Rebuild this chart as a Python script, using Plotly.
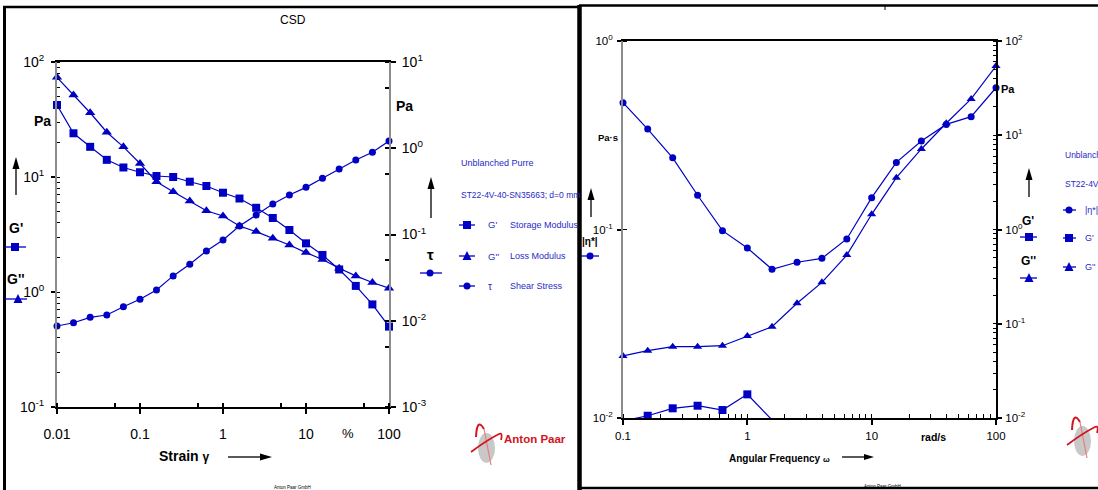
import math
import plotly.graph_objects as go

# ---------------- data ----------------
strain = [0.01, 0.0158, 0.0251, 0.0398, 0.0631, 0.1, 0.158, 0.251, 0.398, 0.631,
          1, 1.58, 2.51, 3.98, 6.31, 10, 15.8, 25.1, 39.8, 63.1, 100]
g_storage_strain = [42.3, 24.0, 18.3, 14.1, 12.1, 11.0, 10.2, 10.0, 9.1, 8.35,
                    7.3, 6.5, 5.4, 4.4, 3.46, 2.65, 2.1, 1.57, 1.13, 0.78, 0.50]
g_loss_strain = [73.6, 51.7, 36.2, 24.5, 18.3, 13.1, 9.1, 7.45, 6.18, 5.09,
                 4.58, 3.75, 3.35, 2.93, 2.56, 2.20, 1.92, 1.61, 1.38, 1.21, 1.08]
shear_stress = [0.00869, 0.00948, 0.01096, 0.01166, 0.01456, 0.01774, 0.02275, 0.0331,
                0.0452, 0.0644, 0.0863, 0.1256, 0.168, 0.226, 0.287, 0.352, 0.449,
                0.574, 0.731, 0.897, 1.21]

omega = [0.1, 0.158, 0.251, 0.398, 0.631, 1, 1.58, 2.51, 3.98, 6.31, 10, 15.8,
         25.1, 39.8, 63.1, 100]
eta_complex = [0.471, 0.341, 0.240, 0.152, 0.0986, 0.0798, 0.0615, 0.0670, 0.0703,
               0.0891, 0.1475, 0.227, 0.295, 0.361, 0.397, 0.565]
g_loss_freq = [0.0455, 0.0518, 0.0571, 0.0571, 0.0585, 0.0741, 0.0930, 0.165, 0.275,
               0.536, 1.45, 3.55, 7.15, 13.4, 24.3, 54.3]
omega_storage = [0.1, 0.158, 0.251, 0.398, 0.631, 1, 1.58]
g_storage_freq = [0.00929, 0.01057, 0.01267, 0.0135, 0.01215, 0.01782, 0.00953]

strain_ticks = [0.01, 0.1, 1, 10, 100]
strain_ticktext = ["0.01", "0.1", "1", "10", "100"]
omega_ticks = [0.1, 1, 10, 100]
omega_ticktext = ["0.1", "1", "10", "100"]

# ---------------- style ----------------
W, H = 1098, 490
FONT = "Liberation Sans, Arial, sans-serif"
BLUE = "#0000c4"
LBLUE = "#2a2ac6"
GREY = "#8c8c8c"
RED = "#d2141e"


def px(x):
    return x / W


def py(y):
    return 1 - y / H


def pow_text(e):
    return "10<sup>%d</sup>" % e


def decade_minors(lo, hi, mult):
    vals = []
    for e in range(lo, hi + 1):
        for m in mult:
            vals.append(m * 10 ** e)
    return vals


fig = go.Figure()

mk_line = dict(color=BLUE, width=1.2)
fig.add_trace(go.Scatter(x=strain, y=g_storage_strain, mode="lines+markers", line=mk_line,
                         marker=dict(symbol="square", size=8, color=BLUE),
                         xaxis="x", yaxis="y", cliponaxis=False, name="G'"))
fig.add_trace(go.Scatter(x=strain, y=g_loss_strain, mode="lines+markers", line=mk_line,
                         marker=dict(symbol="triangle-up", size=9, color=BLUE),
                         xaxis="x", yaxis="y", cliponaxis=False, name="G''"))
fig.add_trace(go.Scatter(x=strain, y=shear_stress, mode="lines+markers", line=mk_line,
                         marker=dict(symbol="circle", size=7, color=BLUE),
                         xaxis="x", yaxis="y2", cliponaxis=False, name="tau"))
fig.add_trace(go.Scatter(x=omega, y=eta_complex, mode="lines+markers", line=mk_line,
                         marker=dict(symbol="circle", size=7, color=BLUE),
                         xaxis="x2", yaxis="y3", cliponaxis=False, name="|eta*|"))
fig.add_trace(go.Scatter(x=omega_storage, y=g_storage_freq, mode="lines+markers", line=mk_line,
                         marker=dict(symbol="square", size=8, color=BLUE),
                         xaxis="x2", yaxis="y4", cliponaxis=False, name="G' freq"))
fig.add_trace(go.Scatter(x=omega, y=g_loss_freq, mode="lines+markers", line=mk_line,
                         marker=dict(symbol="triangle-up", size=8, color=BLUE),
                         xaxis="x2", yaxis="y4", cliponaxis=False, name="G'' freq"))

common = dict(type="log", showgrid=False, zeroline=False, showline=True, automargin=False,
              tickcolor="black", tickwidth=1.5, ticks="outside", title=dict(text=""))

L_TICK = dict(family=FONT, size=14, color="black")
R_TICK = dict(family=FONT, size=11.5, color="black")

fig.update_layout(
    template="none",
    width=W, height=H, autosize=False,
    margin=dict(l=0, r=0, t=0, b=0, pad=0),
    paper_bgcolor="white", plot_bgcolor="white",
    showlegend=False, hovermode=False,
    font=dict(family=FONT, color="black"),
    xaxis=dict(**common, range=[-2, 2], domain=[px(57), px(389)], anchor="y",
               tickvals=strain_ticks, ticktext=strain_ticktext, ticklen=5,
               linecolor="black", linewidth=2, mirror=True,
               tickfont=L_TICK, ticklabelstandoff=8,
               minor=dict(tickvals=strain_ticks + decade_minors(-2, 1, [5]), ticks="inside",
                          ticklen=4, tickcolor="black", tickwidth=1.5)),
    yaxis=dict(**common, range=[-1, 2], domain=[py(407), py(62)], anchor="x",
               tickvals=[0.1, 1, 10, 100], ticktext=[pow_text(e) for e in (-1, 0, 1, 2)],
               ticklen=4, linecolor=GREY, linewidth=2, tickfont=L_TICK, ticklabelstandoff=4,
               minor=dict(tickvals=[0.1, 1, 10, 100] + decade_minors(-1, 1, range(2, 10)),
                          ticks="inside", ticklen=3, tickcolor="black", tickwidth=1.2)),
    yaxis2=dict(**common, range=[-3, 1], overlaying="y", side="right", anchor="x",
                tickvals=[0.001, 0.01, 0.1, 1, 10],
                ticktext=[pow_text(e) for e in (-3, -2, -1, 0, 1)],
                ticklen=5, linecolor=GREY, linewidth=2, tickfont=L_TICK, ticklabelstandoff=3,
                minor=dict(tickvals=[0.001, 0.01, 0.1, 1, 10] + decade_minors(-3, 0, [5]),
                           ticks="inside", ticklen=4, tickcolor="black", tickwidth=1.5)),
    xaxis2=dict(**common, range=[-1, 2], domain=[px(623), px(996)], anchor="y3",
                tickvals=omega_ticks, ticktext=omega_ticktext, ticklen=5,
                linecolor="black", linewidth=2, mirror=True,
                tickfont=R_TICK, ticklabelstandoff=1,
                minor=dict(tickvals=omega_ticks + decade_minors(-1, 1, range(2, 10)),
                           ticks="inside", ticklen=4, tickcolor="black", tickwidth=1.2)),
    yaxis3=dict(**common, range=[-2, 0], domain=[py(418), py(41)], anchor="x2",
                tickvals=[0.01, 0.1, 1], ticktext=[pow_text(e) for e in (-2, -1, 0)],
                ticklen=4, linecolor=GREY, linewidth=2, tickfont=R_TICK, ticklabelstandoff=2,
                minor=dict(tickvals=[0.01, 0.1, 1], ticks="inside", ticklen=4,
                           tickcolor="black", tickwidth=1.2)),
    yaxis4=dict(**common, range=[-2, 2], overlaying="y3", side="right", anchor="x2",
                tickvals=[0.01, 0.1, 1, 10, 100],
                ticktext=[pow_text(e) for e in (-2, -1, 0, 1, 2)],
                ticklen=4, linecolor="black", linewidth=2, tickfont=R_TICK, ticklabelstandoff=1,
                minor=dict(tickvals=[0.01, 0.1, 1, 10, 100] + decade_minors(-2, 1, range(2, 10)),
                           ticks="inside", ticklen=3, tickcolor="black", tickwidth=1.2)),
)

# ---------------- decorations ----------------
shapes = []


def pline(x0, y0, x1, y1, color="black", width=1.0):
    shapes.append(dict(type="line", xref="paper", yref="paper", x0=px(x0), y0=py(y0),
                       x1=px(x1), y1=py(y1), line=dict(color=color, width=width)))


def ppath(points, color):
    d = "M " + " L ".join("%f %f" % (px(a), py(b)) for a, b in points) + " Z"
    shapes.append(dict(type="path", xref="paper", yref="paper", path=d,
                       fillcolor=color, line=dict(width=0)))


def glyph(x0, x1, cx, cy, sym):
    pline(x0, cy, x1, cy, BLUE, 1.3)
    if sym == "square":
        shapes.append(dict(type="rect", xref="paper", yref="paper", x0=px(cx - 4), x1=px(cx + 4),
                           y0=py(cy + 4), y1=py(cy - 4), fillcolor=BLUE, line=dict(width=0)))
    elif sym == "circle":
        shapes.append(dict(type="circle", xref="paper", yref="paper", x0=px(cx - 3.5), x1=px(cx + 3.5),
                           y0=py(cy + 3.5), y1=py(cy - 3.5), fillcolor=BLUE, line=dict(width=0)))
    else:
        ppath([(cx - 4.5, cy + 4), (cx + 4.5, cy + 4), (cx, cy - 5)], BLUE)


def arrow(xt, yt, xh, yh, head=12, half=3.5):
    dx, dy = xh - xt, yh - yt
    L = math.hypot(dx, dy)
    ux, uy = dx / L, dy / L
    bx, by = xh - ux * head, yh - uy * head
    pline(xt, yt, bx, by, "black", 1.3)
    ppath([(xh, yh), (bx - uy * half, by + ux * half), (bx + uy * half, by - ux * half)], "black")


def qpath(pts, color, width):
    (x0, y0), rest = pts[0], pts[1:]
    d = "M %f %f" % (px(x0), py(y0))
    for i in range(0, len(rest), 2):
        (cx, cy), (ex, ey) = rest[i], rest[i + 1]
        d += " Q %f %f %f %f" % (px(cx), py(cy), px(ex), py(ey))
    shapes.append(dict(type="path", xref="paper", yref="paper", path=d,
                       line=dict(color=color, width=width)))


def logo(dx, dy):
    shapes.append(dict(type="circle", xref="paper", yref="paper",
                       x0=px(478 + dx), x1=px(495 + dx), y0=py(463 + dy), y1=py(433 + dy),
                       fillcolor="#c8c8c8", line=dict(width=0)))
    qpath([(476 + dx, 437 + dy), (477 + dx, 417 + dy), (484 + dx, 429 + dy)], RED, 2.0)
    pline(484 + dx, 429 + dy, 491 + dx, 465 + dy, "#ec7c7c", 1.2)
    qpath([(471 + dx, 452 + dy), (487 + dx, 440 + dy), (499 + dx, 434 + dy),
           (503 + dx, 432 + dy), (501 + dx, 440 + dy)], RED, 1.7)


# panel frames
pline(4.5, 7, 4.5, 492, "black", 3)
pline(3, 7, 580, 7, "black", 2.5)
pline(579.5, 5, 579.5, 492, "black", 4.5)
pline(579, 5.5, 1100, 5.5, "black", 2.5)
pline(580, 488, 1100, 488, "black", 2.5)
pline(885, 6, 885, 10, "black", 1)

# legend glyphs
glyph(4, 26, 15, 247, "square")
glyph(5, 27, 18, 299, "triangle")
glyph(420, 442, 430, 273, "circle")
glyph(459, 475, 467, 225, "square")
glyph(459, 475, 467, 256, "triangle")
glyph(459, 475, 467, 286, "circle")
glyph(581, 599, 590, 256, "circle")
glyph(1020, 1037, 1029, 237, "square")
glyph(1020, 1037, 1029, 278, "triangle")
glyph(1063, 1076, 1069, 210, "circle")
glyph(1063, 1076, 1069, 238, "square")
glyph(1063, 1076, 1069, 267, "triangle")

# arrows
arrow(16, 195, 16, 157)
arrow(431, 218, 431, 177)
arrow(228, 457, 272, 457)
arrow(591, 217, 591, 188)
arrow(1029, 197, 1029, 168)
arrow(842, 457, 874, 457, head=10, half=3)

logo(0, 0)
logo(596, -7)

annotations = []


def text(x, y, s, size=13, color="black", anchor="center", bold=False):
    if bold:
        s = "<b>%s</b>" % s
    annotations.append(dict(xref="paper", yref="paper", x=px(x), y=py(y), text=s,
                            showarrow=False, xanchor=anchor, yanchor="middle",
                            font=dict(family=FONT, size=size, color=color)))


# left panel
text(293, 20, "CSD", 12)
text(42, 121, "Pa", 14, bold=True)
text(16, 228, "G'", 14, bold=True)
text(16, 279, "G''", 14, bold=True)
text(404, 106, "Pa", 14, bold=True)
text(431, 254, "τ", 15, bold=True)
text(459, 163, "Unblanched Purre", 9, LBLUE, "left")
text(459, 195, "ST22-4V-40-SN35663; d=0 mm", 8.5, LBLUE, "left")
text(486, 225, "G'", 9.5, LBLUE, "left")
text(508, 225, "Storage Modulus", 9, LBLUE, "left")
text(486, 256, "G''", 9.5, LBLUE, "left")
text(508, 256, "Loss Modulus", 9, LBLUE, "left")
text(486, 286, "τ", 10, LBLUE, "left")
text(508, 286, "Shear Stress", 9, LBLUE, "left")
text(348, 433, "%", 13)
text(184, 456, "Strain <span style='font-size:12px'>γ</span>", 14, bold=True)
text(535, 439, "Anton Paar", 11.5, RED, bold=True)
text(292, 487, "Anton Paar GmbH", 4.5)

# right panel
text(608, 137, "Pa·s", 9.5, bold=True)
text(590, 241, "|η*|", 10, bold=True)
text(1008, 89, "Pa", 11, bold=True)
text(1028, 221, "G'", 12, bold=True)
text(1028, 261, "G''", 12, bold=True)
text(1063, 155, "Unblanched Purre", 8.5, LBLUE, "left")
text(1063, 184, "ST22-4V-40-SN35663; d=0 mm", 8.5, LBLUE, "left")
text(1083, 210, "|η*|", 9, LBLUE, "left")
text(1083, 238, "G'", 9, LBLUE, "left")
text(1083, 267, "G''", 9, LBLUE, "left")
text(933, 437, "rad/s", 10.5, bold=True)
text(779, 458, "Angular Frequency <span style='font-size:8px'>ω</span>", 10, bold=True)
text(882, 486, "Anton Paar GmbH", 4.5)

fig.update_layout(shapes=shapes, annotations=annotations)

fig.write_html("out.html", config={"displayModeBar": False})
